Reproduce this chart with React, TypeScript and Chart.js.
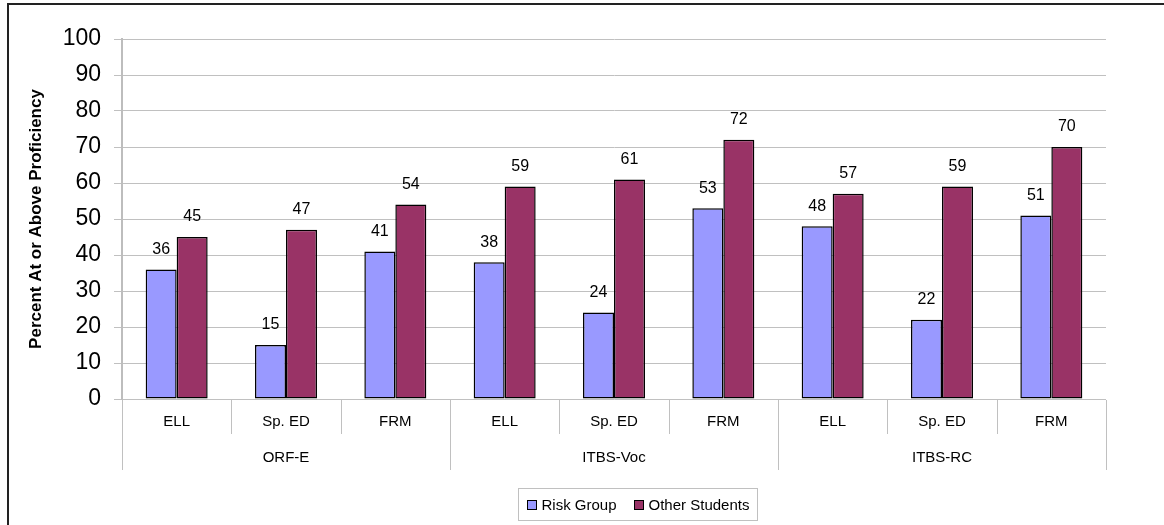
import React, { useEffect, useRef } from "react";
import { Chart, registerables } from "chart.js";

Chart.register(...registerables);

// ---- data ----
const groups = ["ORF-E", "ITBS-Voc", "ITBS-RC"];
const categories = ["ELL", "Sp. ED", "FRM", "ELL", "Sp. ED", "FRM", "ELL", "Sp. ED", "FRM"];
const seriesNames = ["Risk Group", "Other Students"];
const riskGroup = [36, 15, 41, 38, 24, 53, 48, 22, 51];
const otherStudents = [45, 47, 54, 59, 61, 72, 57, 59, 70];
const yMin = 0;
const yMax = 100;
const yStep = 10;
const yTitle = "Percent At or Above Proficiency";

// ---- styles ----
const FONT = "'Liberation Sans', Arial, sans-serif";
const COLORS = ["#9999FF", "#993366"];
const GRID = "#c0c0c0";

const decorPlugin = {
  id: "decor",
  afterDatasetsDraw(chart: any) {
    const { ctx } = chart;
    ctx.save();
    ctx.font = `16px ${FONT}`;
    ctx.fillStyle = "#000";
    ctx.textAlign = "center";
    ctx.textBaseline = "middle";
    chart.data.datasets.forEach((ds: any, di: number) => {
      const meta = chart.getDatasetMeta(di);
      meta.data.forEach((el: any, i: number) => {
        ctx.fillText(String(ds.data[i]), el.x, el.y - 20);
      });
    });
    ctx.restore();
  },
  afterDraw(chart: any) {
    const { ctx, chartArea } = chart;
    const x = chart.scales.x;
    const n = categories.length;
    const per = n / groups.length;
    const w = (chartArea.right - chartArea.left) / n;
    const bottom = chartArea.bottom;
    ctx.save();
    // separators
    ctx.strokeStyle = GRID;
    ctx.lineWidth = 1;
    for (let k = 0; k <= n; k++) {
      const px = Math.round(chartArea.left + k * w) + 0.5;
      const len = k % per === 0 ? 71 : 35;
      ctx.beginPath();
      ctx.moveTo(px, bottom + 1);
      ctx.lineTo(px, bottom + len);
      ctx.stroke();
    }
    // category labels
    ctx.fillStyle = "#000";
    ctx.font = `15px ${FONT}`;
    ctx.textAlign = "center";
    ctx.textBaseline = "middle";
    categories.forEach((c, i) => {
      ctx.fillText(c, x.getPixelForValue(i), bottom + 23);
    });
    groups.forEach((g, gi) => {
      const cx = (x.getPixelForValue(gi * per) + x.getPixelForValue(gi * per + per - 1)) / 2;
      ctx.fillText(g, cx, bottom + 59);
    });

    // legend
    ctx.font = `15px ${FONT}`;
    const sq = 10;
    const gapSqText = 5;
    const gapItems = 17;
    const padX = 8;
    const widths = seriesNames.map((s) => ctx.measureText(s).width);
    let content = 0;
    widths.forEach((tw, i) => {
      content += sq + gapSqText + tw + (i < widths.length - 1 ? gapItems : 0);
    });
    const boxW = Math.round(content + padX * 2);
    const boxH = 32;
    const cxL = 637.5;
    const boxX = Math.round(cxL - boxW / 2) + 0.5;
    const boxY = 488.5;
    ctx.strokeStyle = GRID;
    ctx.lineWidth = 1;
    ctx.strokeRect(boxX, boxY, boxW, boxH);
    let cur = boxX + padX;
    const midY = boxY + boxH / 2;
    ctx.textAlign = "left";
    seriesNames.forEach((s, i) => {
      ctx.fillStyle = COLORS[i];
      ctx.fillRect(Math.round(cur), Math.round(midY - sq / 2), sq, sq);
      ctx.strokeStyle = "#000";
      ctx.strokeRect(Math.round(cur) + 0.5, Math.round(midY - sq / 2) + 0.5, sq - 1, sq - 1);
      cur += sq + gapSqText;
      ctx.fillStyle = "#000";
      ctx.fillText(s, cur, midY + 1);
      cur += widths[i] + gapItems;
    });

    // outer frame
    ctx.fillStyle = "#222";
    ctx.fillRect(7, 3, chart.width - 7, 2);
    ctx.fillRect(7, 3, 2, chart.height - 3);
    ctx.restore();
  },
};

export default function App() {
  const ref = useRef<HTMLCanvasElement>(null);
  useEffect(() => {
    if (!ref.current) return;
    const barStyle = {
      borderColor: "#000",
      borderWidth: 1.5,
      borderSkipped: false,
      categoryPercentage: 0.567,
      barPercentage: 1,
    };
    const chart = new Chart(ref.current, {
      type: "bar",
      data: {
        labels: categories,
        datasets: [
          { label: seriesNames[0], data: riskGroup, backgroundColor: COLORS[0], ...barStyle },
          { label: seriesNames[1], data: otherStudents, backgroundColor: COLORS[1], ...barStyle },
        ],
      },
      options: {
        responsive: false,
        animation: false,
        layout: { padding: { top: 39, bottom: 126, left: 0, right: 58 } },
        plugins: {
          legend: { display: false },
          tooltip: { enabled: false },
        },
        scales: {
          x: {
            ticks: { display: false },
            grid: { display: false },
            border: { display: false },
            afterFit: (s: any) => {
              s.height = 0;
            },
          },
          y: {
            min: yMin,
            max: yMax,
            ticks: {
              stepSize: yStep,
              color: "#000",
              font: { family: FONT, size: 23 },
              padding: 13,
            },
            grid: { color: GRID, lineWidth: 1, tickLength: 8, tickColor: GRID },
            border: { display: true, color: "#bdbdbd", width: 2 },
            title: {
              display: true,
              text: yTitle,
              color: "#000",
              font: { family: FONT, size: 17, weight: "bold" },
              padding: { top: 26, bottom: 0 },
            },
            afterFit: (s: any) => {
              s.width = 122;
            },
          },
        },
      },
      plugins: [decorPlugin],
    });
    return () => chart.destroy();
  }, []);
  return (
    <div style={{ position: "absolute", left: 0, top: 0, width: 1164, height: 525 }}>
      <canvas ref={ref} width={1164} height={525} style={{ display: "block" }} />
    </div>
  );
}
